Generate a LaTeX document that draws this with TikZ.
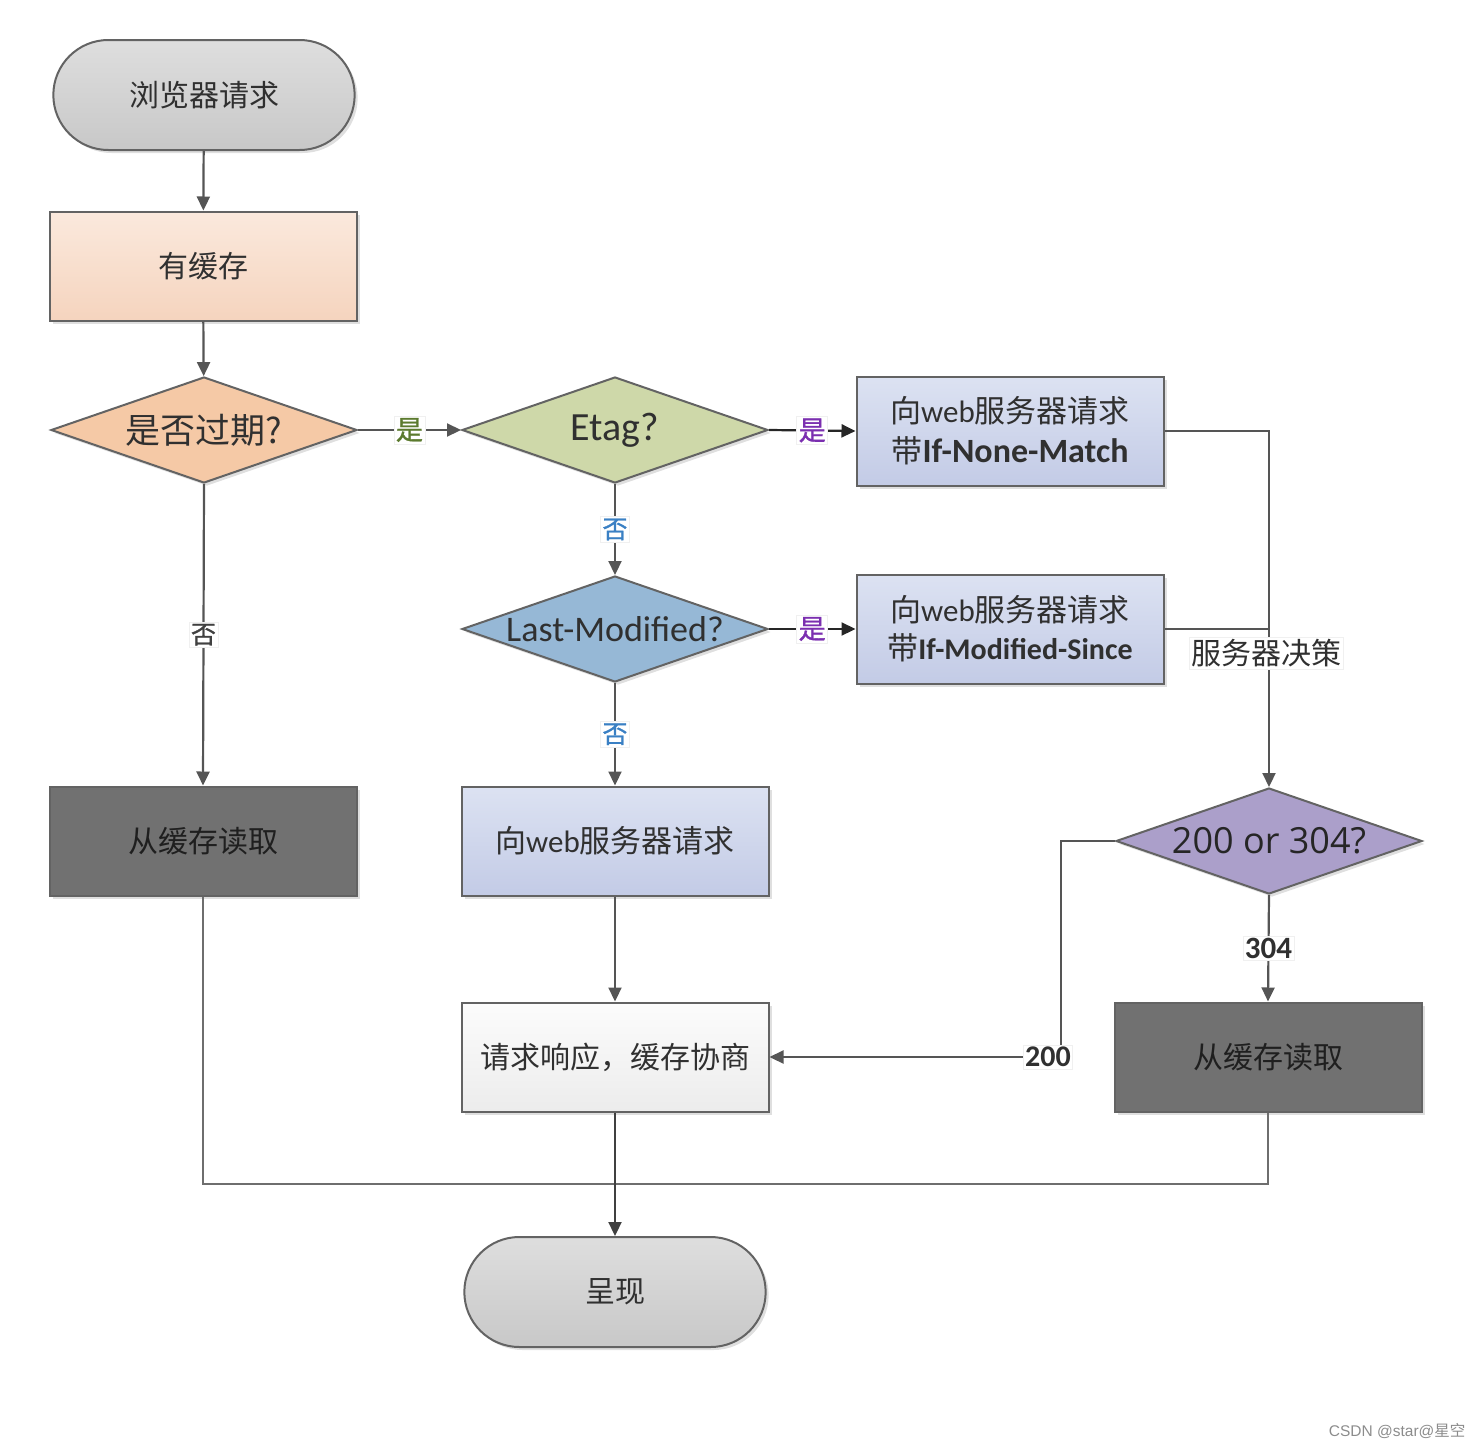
\documentclass[tikz,border=0pt]{standalone}
\usepackage{fontspec}
\setmainfont{Noto Sans CJK SC}
\newfontfamily\cjk{Noto Sans CJK SC}
\newfontfamily\cjkb[FakeBold=1.2]{Noto Sans CJK SC}
\newfontfamily\lat{Carlito}
\newfontfamily\osans{Open Sans}
\newfontfamily\arial{Liberation Sans}
\usetikzlibrary{shapes.geometric,shapes.misc,arrows.meta,shadows}
\definecolor{edgec}{HTML}{555555}
\definecolor{borderc}{HTML}{636363}
\definecolor{txtc}{HTML}{303030}
\definecolor{termT}{HTML}{DEDEDE}
\definecolor{termB}{HTML}{C8C8C8}
\definecolor{cacheT}{HTML}{FBE9DD}
\definecolor{cacheB}{HTML}{F5D4BE}
\definecolor{expC}{HTML}{F5C9A6}
\definecolor{etagC}{HTML}{CED8A9}
\definecolor{lmC}{HTML}{96B8D6}
\definecolor{blueT}{HTML}{DCE2F2}
\definecolor{blueB}{HTML}{C3CBE6}
\definecolor{darkC}{HTML}{717171}
\definecolor{purC}{HTML}{AB9FCA}
\definecolor{respT}{HTML}{FCFCFC}
\definecolor{respB}{HTML}{ECECEC}
\definecolor{yesG}{HTML}{5B7A2E}
\definecolor{yesP}{HTML}{7B2FB0}
\definecolor{noB}{HTML}{3A80C4}
\definecolor{noD}{HTML}{404040}
\tikzset{
  base/.style={draw=borderc, line width=2pt,
    drop shadow={shadow xshift=3pt, shadow yshift=-3pt, opacity=0.25},
    text=txtc, font=\fontsize{30}{34}\selectfont},
  term/.style={base, rounded rectangle, minimum width=308pt, minimum height=110pt,
    top color=termT, bottom color=termB},
  proc/.style={base, rectangle, minimum width=307pt, minimum height=109pt, align=center},
  dia/.style={base, diamond, minimum width=306pt, minimum height=106pt, inner sep=0pt},
  conn/.style={draw=edgec, line width=2.2pt},
  arr/.style={conn, -{Triangle[length=14pt,width=13pt]}},
  lab/.style={fill=white, draw=black!6, line width=0.6pt, inner sep=2pt,
    font=\cjkb\fontsize{27}{30}\selectfont},
}
\begin{document}
\begin{tikzpicture}[x=1pt,y=-1pt]
\useasboundingbox (0,0) rectangle (1484,1448);

% nodes
\node[term] (start) at (204,95) {浏览器请求};
\node[proc, top color=cacheT, bottom color=cacheB] (cache) at (203,266) {有缓存};
\node[dia, fill=expC,
  label={[font=\fontsize{35}{40}\selectfont, text=txtc]center:是否过期?}] (exp) at (204,430) {};
\node[dia, fill=etagC,
  label={[font=\lat\fontsize{40}{44}\selectfont, text=txtc]center:Etag?}] (etag) at (615,430) {};
\node[proc, top color=blueT, bottom color=blueB, font=\fontsize{31}{40}\selectfont] (nm) at (1010,431)
  {{\cjk 向}{\lat web}{\cjk 服务器请求}\\{\cjk 带}{\lat\bfseries\fontsize{34}{40}\selectfont If-None-Match}};
\node[dia, fill=lmC,
  label={[font=\lat\fontsize{36}{40}\selectfont, text=txtc]center:Last-Modified?}] (lm) at (615,629) {};
\node[proc, top color=blueT, bottom color=blueB, font=\fontsize{31}{38}\selectfont] (ms) at (1010,629)
  {{\cjk 向}{\lat web}{\cjk 服务器请求}\\{\cjk 带}{\lat\bfseries\fontsize{30}{38}\selectfont If-Modified-Since}};
\node[proc, fill=darkC, text=black!88] (lread) at (203,841) {从缓存读取};
\node[proc, top color=blueT, bottom color=blueB, font=\fontsize{31}{36}\selectfont] (web) at (615,841)
  {{\cjk 向}{\lat web}{\cjk 服务器请求}};
\node[dia, fill=purC,
  label={[font=\osans\fontsize{36}{40}\selectfont, text=black!85]center:200 or 304?}] (d200) at (1269,841) {};
\node[proc, top color=respT, bottom color=respB] (resp) at (615,1057) {请求响应，缓存协商};
\node[proc, fill=darkC, text=black!88] (rread) at (1268,1057) {从缓存读取};
\node[term] (show) at (615,1292) {呈现};

\coordinate (m) at (615,1184);

% connectors
\draw[arr] (start) -- (cache);
\draw[arr] (cache) -- (exp);
\draw[arr] (exp.east) -- node[lab, text=yesG]{是} (etag.west);
\draw[arr] (exp.south) -- node[lab, text=noD, font=\cjkb\fontsize{25}{28}\selectfont]{否} (lread.north);
\draw[arr, draw=black!85] (etag.east) -- node[lab, text=yesP]{是} (nm.west);
\draw[arr] (etag.south) -- node[lab, text=noB, font=\cjkb\fontsize{25}{28}\selectfont]{否} (lm.north);
\draw[arr, draw=black!85] (lm.east) -- node[lab, text=yesP]{是} (ms.west);
\draw[arr] (lm.south) -- node[lab, text=noB, font=\cjkb\fontsize{25}{28}\selectfont]{否} (web.north);
\draw[arr] (nm.east) -| (d200.north);
\draw[conn] (ms.east) -- (ms.east -| d200.north);
\node[lab, text=txtc, font=\fontsize{30}{34}\selectfont] (dec) at (1266,653) {服务器决策};
\draw[arr] (d200.south) -- node[lab, text=txtc, font=\lat\bfseries\fontsize{31}{34}\selectfont]{304} (rread.north);
\draw[arr] (d200.west) -- (1061,841) -- (1061,1057) -- node[lab, pos=0.045, text=txtc, font=\lat\bfseries\fontsize{30}{34}\selectfont]{200} (resp.east);
\draw[arr] (web) -- (resp);
\draw[conn, line width=1.8pt, draw=edgec!85] (lread.south) -- (lread.south |- m) -- (rread.south |- m) -- (rread.south);
\draw[arr, draw=black!75] (resp.south) -- (show.north);

\node[text=black!45, font=\fontsize{15.5}{18}\selectfont, anchor=east] (wm) at (1469,1431) {{\arial CSDN @star@}{\cjk 星空}};
\end{tikzpicture}
\end{document}
